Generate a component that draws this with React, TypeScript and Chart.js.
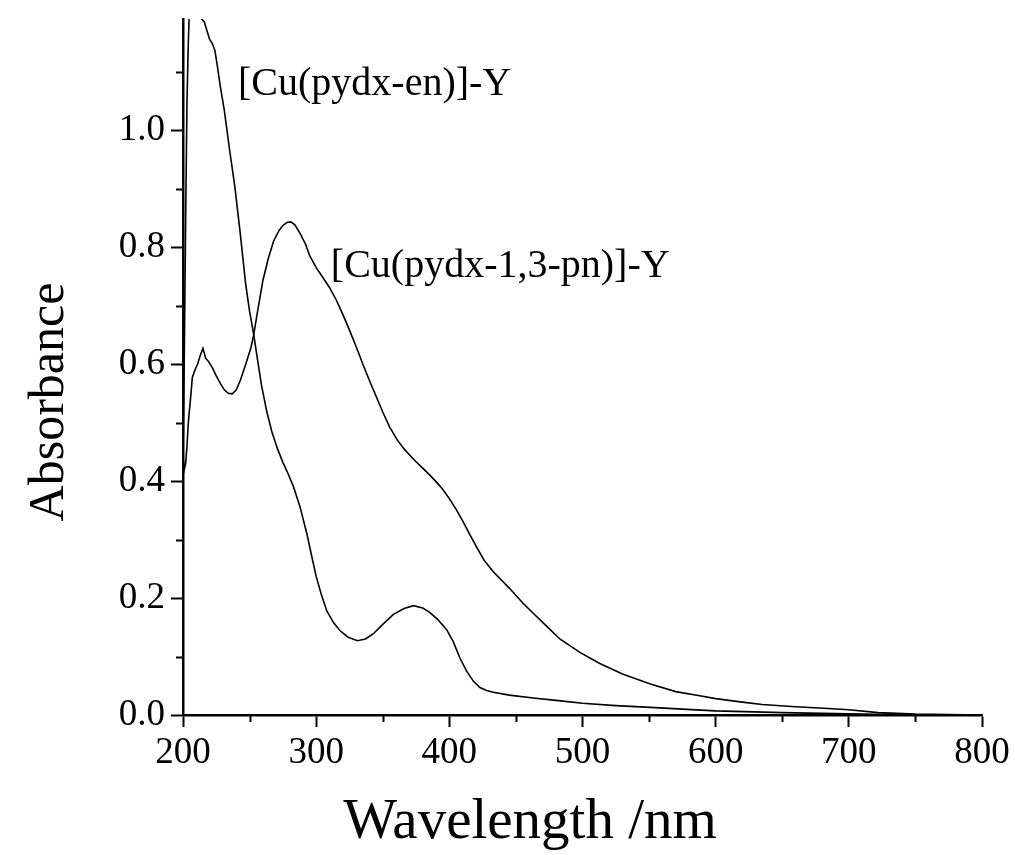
import { useEffect, useRef } from "react";
import { Chart, registerables } from "chart.js";

Chart.register(...registerables);

// [Cu(pydx-en)]-Y
const enWavelength = [
  200, 201, 202, 203, 204, 205, 207, 210, 212, 214, 216, 218, 220, 222, 224, 226, 228, 231, 235, 239,
  243, 247, 250, 253, 256, 259, 263, 267, 271, 275, 279, 283, 288, 293, 297, 300, 304, 308, 313, 318,
  324, 331, 337, 343, 350, 358, 366, 373, 380, 385, 391, 398, 403, 408, 413, 418, 423, 428, 433, 445,
  463, 480, 500, 525, 551, 575, 600, 650, 700, 720, 750, 800,
];
const enAbsorbance = [
  0.43, 0.62, 0.85, 1.05, 1.15, 1.22, 1.26, 1.24, 1.22, 1.19, 1.185, 1.17, 1.155, 1.148, 1.136, 1.107, 1.075, 1.034, 0.966, 0.902,
  0.823, 0.738, 0.69, 0.652, 0.607, 0.563, 0.518, 0.482, 0.455, 0.432, 0.412, 0.39, 0.355, 0.31, 0.268, 0.237, 0.205, 0.178, 0.158, 0.144,
  0.133, 0.127, 0.13, 0.139, 0.155, 0.172, 0.182, 0.187, 0.183, 0.176, 0.164, 0.146, 0.125, 0.097, 0.075, 0.058, 0.047, 0.042, 0.039, 0.034,
  0.029, 0.025, 0.02, 0.016, 0.013, 0.01, 0.007, 0.004, 0.002, 0.001, 0.0005, 0.0,
];

// [Cu(pydx-1,3-pn)]-Y
const pnWavelength = [
  200, 201, 202, 203, 204, 206, 207, 209, 211, 213, 215, 217, 219, 222, 225, 228, 231, 234, 237, 240,
  243, 246, 248, 251, 253, 256, 260, 264, 268, 272, 275, 278, 281, 284, 288, 292, 295, 300, 305, 310,
  315, 320, 325, 330, 335, 340, 345, 350, 355, 361, 366, 370, 375, 380, 385, 390, 395, 400, 405, 410,
  415, 420, 426, 433, 445, 455, 463, 473, 483, 498, 513, 530, 551, 570, 588, 600, 620, 635, 660, 678,
  700, 722, 750, 800,
];
const pnAbsorbance = [
  0.44, 0.42, 0.43, 0.46, 0.5, 0.55, 0.577, 0.59, 0.6, 0.615, 0.627, 0.61, 0.605, 0.594, 0.58, 0.567, 0.556, 0.55, 0.549, 0.556,
  0.572, 0.592, 0.606, 0.628, 0.649, 0.69, 0.743, 0.78, 0.81, 0.828, 0.837, 0.842, 0.843, 0.838, 0.823, 0.805, 0.786, 0.765, 0.748, 0.731,
  0.71, 0.685, 0.658, 0.63, 0.6, 0.572, 0.545, 0.518, 0.493, 0.47, 0.455, 0.445, 0.433, 0.422, 0.411, 0.399, 0.386, 0.37, 0.352, 0.332,
  0.31, 0.289, 0.265, 0.245, 0.217, 0.192, 0.174, 0.152, 0.13, 0.107, 0.088, 0.07, 0.053, 0.04, 0.033, 0.028, 0.022, 0.018, 0.014, 0.012,
  0.009, 0.004, 0.0015, 0.0,
];

const xTicks = [200, 300, 400, 500, 600, 700, 800];
const xMinorTicks = [250, 350, 450, 550, 650, 750];
const yTicks = [0.0, 0.2, 0.4, 0.6, 0.8, 1.0];
const yMinorTicks = [0.1, 0.3, 0.5, 0.7, 0.9, 1.1];

const xTitle = "Wavelength /nm";
const yTitle = "Absorbance";
const seriesLabels = ["[Cu(pydx-en)]-Y", "[Cu(pydx-1,3-pn)]-Y"];
const labelAnchorsX = [241.3, 311];
const labelAnchorsY = [1.06, 0.749];

const FONT = '"Liberation Serif", "Times New Roman", serif';

const decorations = {
  id: "decorations",
  afterDraw(chart: any) {
    const { ctx, chartArea, scales } = chart;
    const xs = scales.x;
    const ys = scales.y;
    ctx.save();
    ctx.strokeStyle = "#000";
    ctx.lineWidth = 2;
    ctx.beginPath();
    yMinorTicks.forEach((v) => {
      const py = Math.round(ys.getPixelForValue(v)) + 0.5;
      ctx.moveTo(chartArea.left - 7, py);
      ctx.lineTo(chartArea.left, py);
    });
    xMinorTicks.forEach((v) => {
      const px = Math.round(xs.getPixelForValue(v)) + 0.5;
      ctx.moveTo(px, chartArea.bottom);
      ctx.lineTo(px, chartArea.bottom + 7);
    });
    ctx.stroke();

    ctx.fillStyle = "#000";
    ctx.font = `40px ${FONT}`;
    ctx.textAlign = "left";
    ctx.textBaseline = "alphabetic";
    seriesLabels.forEach((t, i) => {
      ctx.fillText(t, xs.getPixelForValue(labelAnchorsX[i]), ys.getPixelForValue(labelAnchorsY[i]));
    });

    // axis titles
    ctx.font = `57px ${FONT}`;
    ctx.textAlign = "center";
    ctx.fillText(xTitle, 530, 838);

    ctx.save();
    ctx.font = `50px ${FONT}`;
    ctx.translate(63, 402);
    ctx.rotate(-Math.PI / 2);
    ctx.textAlign = "center";
    ctx.textBaseline = "alphabetic";
    ctx.fillText(yTitle, 0, 0);
    ctx.restore();

    ctx.restore();
  },
};

export default function App() {
  const canvasRef = useRef<HTMLCanvasElement | null>(null);

  useEffect(() => {
    const canvas = canvasRef.current;
    if (!canvas) return;
    Chart.defaults.color = "#000";
    const chart = new Chart(canvas, {
      type: "line",
      data: {
        datasets: [
          {
            label: seriesLabels[0],
            data: enWavelength.map((w, i) => ({ x: w, y: enAbsorbance[i] })),
            borderColor: "#000",
            borderWidth: 1.6,
            pointRadius: 0,
            tension: 0,
            fill: false,
          },
          {
            label: seriesLabels[1],
            data: pnWavelength.map((w, i) => ({ x: w, y: pnAbsorbance[i] })),
            borderColor: "#000",
            borderWidth: 1.6,
            pointRadius: 0,
            tension: 0,
            fill: false,
          },
        ],
      },
      options: {
        animation: false,
        responsive: false,
        maintainAspectRatio: false,
        events: [],
        layout: { padding: { left: 0, right: 33, top: 19, bottom: 0 } },
        plugins: {
          legend: { display: false },
          tooltip: { enabled: false },
        },
        scales: {
          x: {
            type: "linear",
            min: 200,
            max: 800,
            afterBuildTicks: (scale: any) => {
              scale.ticks = xTicks.map((v) => ({ value: v }));
            },
            afterFit: (scale: any) => {
              scale.height = 140;
              scale.paddingLeft = 0;
              scale.paddingRight = 0;
            },
            border: { display: true, color: "#000", width: 2.5 },
            grid: {
              display: true,
              drawOnChartArea: false,
              drawTicks: true,
              tickLength: 12,
              tickWidth: 2,
              tickColor: "#000",
              color: "#000",
            },
            ticks: {
              color: "#000",
              padding: 4,
              maxRotation: 0,
              autoSkip: false,
              font: { family: FONT, size: 37 },
              callback: (v: any) => String(v),
            },
            title: { display: false },
          },
          y: {
            type: "linear",
            min: 0,
            max: 1.19,
            afterBuildTicks: (scale: any) => {
              scale.ticks = yTicks.map((v) => ({ value: v }));
            },
            afterFit: (scale: any) => {
              scale.width = 183;
              scale.paddingTop = 0;
              scale.paddingBottom = 0;
            },
            border: { display: true, color: "#000", width: 2.5 },
            grid: {
              display: true,
              drawOnChartArea: false,
              drawTicks: true,
              tickLength: 12,
              tickWidth: 2,
              tickColor: "#000",
              color: "#000",
            },
            ticks: {
              color: "#000",
              padding: 6,
              autoSkip: false,
              font: { family: FONT, size: 37 },
              callback: (v: any) => Number(v).toFixed(1),
            },
            title: { display: false },
          },
        },
      },
      plugins: [decorations],
    } as any);
    return () => chart.destroy();
  }, []);

  return (
    <div style={{ position: "absolute", left: 0, top: 0, width: 1015, height: 855, background: "#fff" }}>
      <canvas ref={canvasRef} width={1015} height={855} style={{ display: "block" }} />
    </div>
  );
}
